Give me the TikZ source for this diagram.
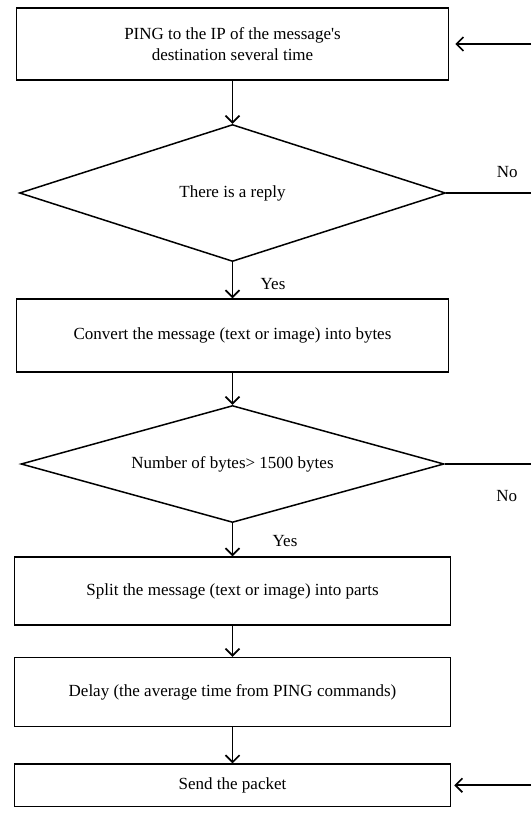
\documentclass[tikz,border=0pt]{standalone}
\usepackage{fontspec}
\setmainfont{Liberation Serif}
\usetikzlibrary{shapes.geometric, positioning, arrows.meta}

\begin{document}
\begin{tikzpicture}[x=1pt, y=1pt,
  font=\fontsize{17}{21}\selectfont,
  block/.style={draw, line width=1.5pt, minimum width=432pt, align=center, inner sep=0pt},
  test/.style={draw, diamond, line width=1.5pt, shape aspect=4, inner sep=0pt},
  flow/.style={line width=1.6pt},
  >={Straight Barb[length=7pt,width=14pt]}]
\useasboundingbox (0,0) rectangle (531,-819);
\coordinate (rim) at (531,0);

\node[block, minimum height=72pt] (ping) at (232.5,-44) {PING to the IP of the message\textquotesingle s\\destination several time};
\node[test, minimum width=426pt, minimum height=137pt, below=43pt of ping] (reply) {There is a reply};
\node[block, minimum height=73pt, below=36pt of reply] (bytes) {Convert the message (text or image) into bytes};
\node[test, minimum width=423pt, minimum height=117pt, below=32pt of bytes] (size) {Number of bytes> 1500 bytes};
\node[block, minimum width=436pt, minimum height=68pt, below=33pt of size] (split) {Split the message (text or image) into parts};
\node[block, minimum width=436pt, minimum height=69pt, below=31pt of split] (delay) {Delay (the average time from PING commands)};
\node[block, minimum width=436pt, minimum height=42.5pt, below=36pt of delay] (send) {Send the packet};

\coordinate (r1) at (rim |- reply.east);
\coordinate (r2) at (rim |- size.east);
\coordinate (r0) at (rim |- ping.east);
\coordinate (r3) at (rim |- send.east);

\draw[flow]
    (ping) edge[->] (reply)
    (reply) edge[->] node[pos=0.6, right=24pt] {Yes} (bytes)
    (bytes) edge[->] (size)
    (size) edge[->] node[pos=0.55, right=36pt] {Yes} (split)
    (split) edge[->] (delay)
    (delay) edge[->] (send)
    (reply.east) edge node[pos=0.72, above=11pt] {No} (r1)
    (size.east) edge node[pos=0.72, below=22pt] {No} (r2)
    (r0) edge[->, shorten >=6pt] (ping.east)
    (r3) edge[->, shorten >=3pt] (send.east)
    ;
\end{tikzpicture}
\end{document}
